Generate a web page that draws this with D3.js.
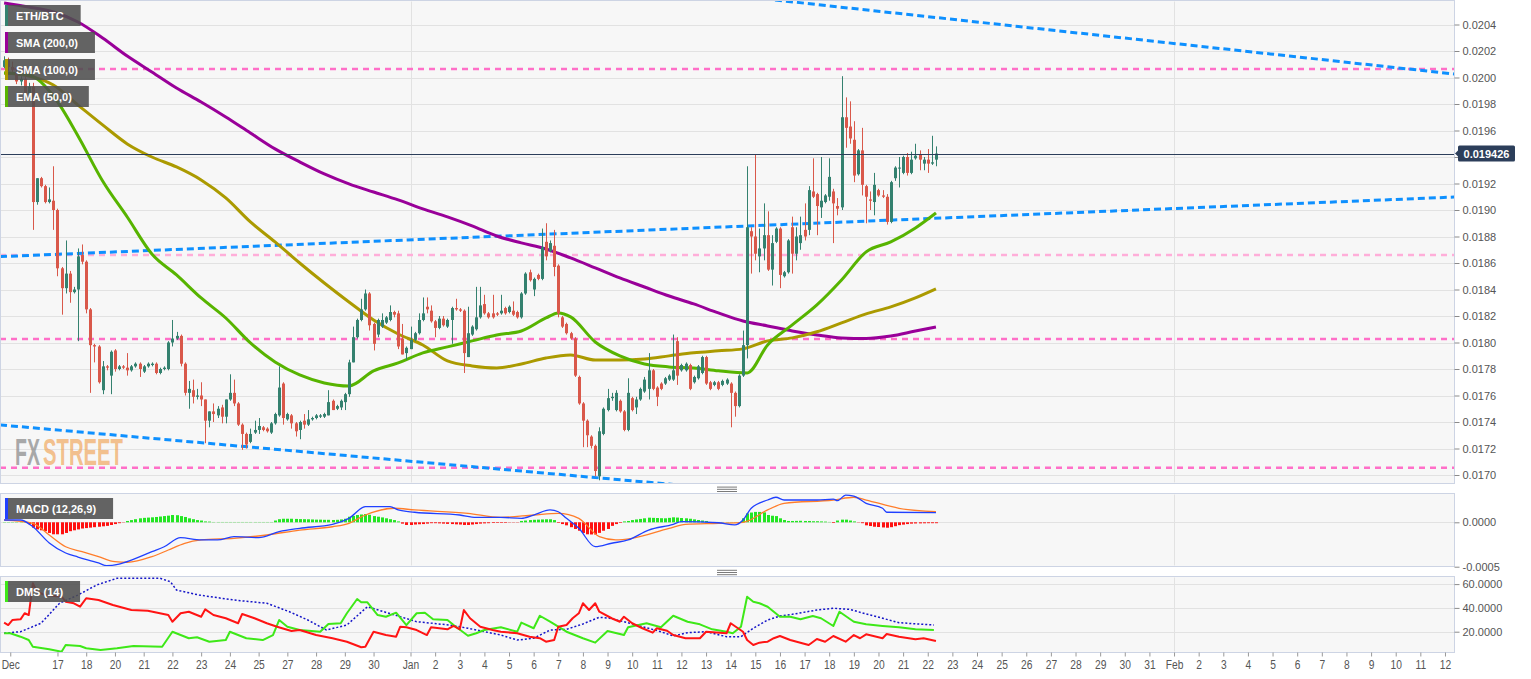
<!DOCTYPE html>
<html>
<head>
<meta charset="utf-8">
<script src="https://d3js.org/d3.v7.min.js"></script>
<style>
html,body{margin:0;padding:0;background:#fff;}
svg{display:block;}
</style>
</head>
<body>
<svg id="chart" width="1531" height="679"></svg>
<script>
// ================= DATA =================
// 4-hour candles ETH/BTC, first candle 2017-12-15 12:00 UTC (bar index 0)
const open = [0.02008,0.02013,0.02008,0.02004,0.01997,0.01999,0.01988,0.01993,0.01906,0.01924,
0.01918,0.01906,0.01907,0.01900,0.01856,0.01841,0.01852,0.01838,0.01840,0.01866,
0.01861,0.01825,0.01798,0.01797,0.01764,0.01782,0.01775,0.01794,0.01780,0.01782,
0.01781,0.01779,0.01782,0.01784,0.01778,0.01782,0.01783,0.01784,0.01777,0.01780,
0.01780,0.01800,0.01803,0.01805,0.01784,0.01762,0.01764,0.01759,0.01760,0.01757,
0.01741,0.01748,0.01745,0.01751,0.01744,0.01757,0.01762,0.01754,0.01738,0.01731,
0.01725,0.01732,0.01734,0.01736,0.01735,0.01732,0.01739,0.01745,0.01769,0.01742,
0.01745,0.01739,0.01734,0.01741,0.01738,0.01742,0.01743,0.01744,0.01744,0.01745,
0.01756,0.01750,0.01751,0.01755,0.01761,0.01785,0.01804,0.01817,0.01825,0.01837,
0.01814,0.01806,0.01812,0.01815,0.01817,0.01823,0.01822,0.01803,0.01792,0.01795,
0.01802,0.01807,0.01817,0.01827,0.01824,0.01816,0.01811,0.01818,0.01812,0.01817,
0.01826,0.01825,0.01824,0.01789,0.01806,0.01810,0.01819,0.01829,0.01822,0.01822,
0.01822,0.01822,0.01826,0.01823,0.01824,0.01823,0.01819,0.01837,0.01853,0.01840,
0.01851,0.01848,0.01876,0.01869,0.01873,0.01858,0.01819,0.01814,0.01807,0.01803,
0.01774,0.01754,0.01741,0.01729,0.01722,0.01699,0.01731,0.01749,0.01758,0.01749,
0.01756,0.01748,0.01734,0.01758,0.01751,0.01757,0.01763,0.01765,0.01779,0.01766,
0.01769,0.01769,0.01772,0.01772,0.01801,0.01779,0.01779,0.01783,0.01770,0.01773,
0.01777,0.01789,0.01770,0.01768,0.01770,0.01768,0.01769,0.01769,0.01762,0.01752,
0.01775,0.01798,0.01884,0.01880,0.01865,0.01871,0.01881,0.01855,0.01876,0.01886,
0.01850,0.01853,0.01887,0.01867,0.01875,0.01885,0.01885,0.01914,0.01912,0.01902,
0.01906,0.01910,0.01914,0.01903,0.01902,0.01970,0.01963,0.01953,0.01927,0.01945,
0.01918,0.01908,0.01906,0.01915,0.01911,0.01910,0.01891,0.01924,0.01932,0.01928,
0.01940,0.01928,0.01939,0.01942,0.01935,0.01938,0.01935,0.01938];
const high = [0.02016,0.02015,0.02012,0.02006,0.02001,0.02001,0.01996,0.01996,0.01924,0.01925,
0.01919,0.01917,0.01933,0.01901,0.01857,0.01877,0.01854,0.01842,0.01871,0.01874,
0.01862,0.01826,0.01799,0.01798,0.01786,0.01783,0.01794,0.01795,0.01783,0.01783,
0.01792,0.01783,0.01785,0.01785,0.01783,0.01785,0.01785,0.01785,0.01781,0.01782,
0.01801,0.01817,0.01808,0.01806,0.01785,0.01771,0.01772,0.01765,0.01770,0.01757,
0.01748,0.01754,0.01752,0.01753,0.01757,0.01776,0.01772,0.01755,0.01739,0.01732,
0.01735,0.01741,0.01743,0.01737,0.01736,0.01740,0.01747,0.01782,0.01770,0.01747,
0.01746,0.01740,0.01741,0.01746,0.01749,0.01744,0.01746,0.01746,0.01747,0.01764,
0.01757,0.01753,0.01757,0.01762,0.01787,0.01812,0.01818,0.01833,0.01840,0.01838,
0.01815,0.01818,0.01822,0.01820,0.01828,0.01824,0.01824,0.01814,0.01797,0.01812,
0.01808,0.01822,0.01834,0.01834,0.01828,0.01817,0.01820,0.01820,0.01818,0.01827,
0.01833,0.01826,0.01825,0.01827,0.01813,0.01842,0.01842,0.01836,0.01823,0.01836,
0.01823,0.01836,0.01827,0.01828,0.01831,0.01824,0.01838,0.01853,0.01855,0.01849,
0.01852,0.01886,0.01890,0.01877,0.01885,0.01859,0.01820,0.01815,0.01808,0.01804,
0.01775,0.01755,0.01742,0.01730,0.01723,0.01736,0.01751,0.01765,0.01762,0.01764,
0.01757,0.01749,0.01773,0.01759,0.01759,0.01766,0.01774,0.01792,0.01780,0.01767,
0.01770,0.01774,0.01776,0.01806,0.01804,0.01784,0.01785,0.01784,0.01775,0.01783,
0.01790,0.01790,0.01771,0.01771,0.01771,0.01772,0.01773,0.01770,0.01763,0.01776,
0.01809,0.01933,0.01887,0.01942,0.01886,0.01905,0.01899,0.01881,0.01887,0.01887,
0.01854,0.01878,0.01895,0.01887,0.01895,0.01905,0.01918,0.01939,0.01913,0.01940,
0.01912,0.01939,0.01916,0.01909,0.02001,0.01985,0.01982,0.01967,0.01946,0.01962,
0.01919,0.01914,0.01928,0.01916,0.01915,0.01912,0.01922,0.01933,0.01940,0.01941,
0.01943,0.01944,0.01950,0.01945,0.01940,0.01946,0.01956,0.01948];
const low = [0.02007,0.02005,0.02004,0.01995,0.01994,0.01986,0.01986,0.01885,0.01904,0.01917,
0.01905,0.01905,0.01885,0.01850,0.01821,0.01837,0.01830,0.01837,0.01801,0.01859,
0.01822,0.01762,0.01785,0.01769,0.01761,0.01779,0.01761,0.01778,0.01779,0.01780,
0.01775,0.01778,0.01781,0.01774,0.01777,0.01781,0.01782,0.01776,0.01776,0.01779,
0.01779,0.01797,0.01802,0.01782,0.01760,0.01750,0.01754,0.01757,0.01752,0.01724,
0.01736,0.01740,0.01743,0.01739,0.01739,0.01756,0.01752,0.01737,0.01719,0.01720,
0.01724,0.01731,0.01731,0.01733,0.01732,0.01731,0.01738,0.01744,0.01738,0.01741,
0.01735,0.01729,0.01727,0.01735,0.01737,0.01741,0.01742,0.01743,0.01743,0.01745,
0.01749,0.01749,0.01749,0.01749,0.01759,0.01785,0.01803,0.01816,0.01824,0.01809,
0.01794,0.01804,0.01811,0.01814,0.01816,0.01819,0.01795,0.01791,0.01787,0.01795,
0.01801,0.01806,0.01816,0.01822,0.01815,0.01804,0.01810,0.01812,0.01811,0.01799,
0.01824,0.01823,0.01777,0.01789,0.01805,0.01809,0.01818,0.01821,0.01818,0.01818,
0.01820,0.01821,0.01821,0.01822,0.01820,0.01818,0.01818,0.01836,0.01846,0.01835,
0.01847,0.01847,0.01862,0.01868,0.01850,0.01819,0.01811,0.01806,0.01802,0.01774,
0.01753,0.01721,0.01721,0.01720,0.01699,0.01696,0.01730,0.01748,0.01756,0.01748,
0.01747,0.01733,0.01733,0.01748,0.01746,0.01756,0.01762,0.01757,0.01764,0.01752,
0.01764,0.01768,0.01771,0.01771,0.01768,0.01778,0.01778,0.01764,0.01769,0.01772,
0.01776,0.01768,0.01764,0.01767,0.01764,0.01767,0.01768,0.01736,0.01744,0.01751,
0.01774,0.01788,0.01852,0.01862,0.01853,0.01862,0.01854,0.01843,0.01875,0.01841,
0.01849,0.01852,0.01852,0.01862,0.01870,0.01877,0.01881,0.01909,0.01881,0.01894,
0.01905,0.01907,0.01875,0.01896,0.01900,0.01947,0.01950,0.01921,0.01926,0.01911,
0.01890,0.01900,0.01896,0.01910,0.01909,0.01889,0.01890,0.01922,0.01917,0.01927,
0.01926,0.01927,0.01938,0.01930,0.01930,0.01928,0.01934,0.01933];
const close = [0.02013,0.02008,0.02006,0.01997,0.01999,0.01988,0.01993,0.01906,0.01924,0.01918,
0.01906,0.01908,0.01900,0.01856,0.01841,0.01852,0.01838,0.01840,0.01865,0.01861,
0.01825,0.01798,0.01797,0.01770,0.01782,0.01781,0.01793,0.01780,0.01782,0.01781,
0.01779,0.01782,0.01784,0.01780,0.01782,0.01784,0.01784,0.01777,0.01780,0.01781,
0.01800,0.01803,0.01805,0.01784,0.01762,0.01765,0.01759,0.01760,0.01757,0.01741,
0.01748,0.01746,0.01750,0.01744,0.01757,0.01762,0.01754,0.01738,0.01731,0.01723,
0.01731,0.01734,0.01737,0.01734,0.01733,0.01739,0.01746,0.01766,0.01743,0.01746,
0.01739,0.01733,0.01740,0.01738,0.01742,0.01743,0.01745,0.01745,0.01746,0.01755,
0.01749,0.01752,0.01756,0.01761,0.01785,0.01804,0.01817,0.01825,0.01837,0.01813,
0.01799,0.01817,0.01817,0.01819,0.01823,0.01821,0.01797,0.01791,0.01796,0.01802,
0.01807,0.01817,0.01822,0.01825,0.01816,0.01811,0.01818,0.01813,0.01817,0.01826,
0.01825,0.01824,0.01792,0.01807,0.01812,0.01819,0.01828,0.01822,0.01819,0.01819,
0.01821,0.01824,0.01822,0.01827,0.01821,0.01819,0.01837,0.01852,0.01847,0.01848,
0.01848,0.01872,0.01865,0.01875,0.01857,0.01822,0.01812,0.01807,0.01803,0.01775,
0.01754,0.01741,0.01730,0.01722,0.01703,0.01733,0.01750,0.01758,0.01759,0.01762,
0.01748,0.01734,0.01762,0.01749,0.01757,0.01765,0.01772,0.01779,0.01765,0.01759,
0.01765,0.01773,0.01775,0.01779,0.01775,0.01783,0.01784,0.01765,0.01774,0.01782,
0.01789,0.01769,0.01765,0.01770,0.01765,0.01771,0.01772,0.01762,0.01752,0.01775,
0.01798,0.01887,0.01880,0.01867,0.01871,0.01881,0.01855,0.01875,0.01886,0.01851,
0.01853,0.01877,0.01867,0.01880,0.01881,0.01880,0.01915,0.01910,0.01903,0.01907,
0.01911,0.01925,0.01905,0.01901,0.01970,0.01962,0.01954,0.01926,0.01945,0.01919,
0.01910,0.01907,0.01919,0.01911,0.01910,0.01891,0.01921,0.01932,0.01932,0.01940,
0.01928,0.01938,0.01941,0.01938,0.01938,0.01935,0.01936,0.019426];

// moving averages, [bar index, value]
const sma200 = [[0,0.020562],[6,0.020532],[12,0.020494],[18,0.020419],[24,0.020298],[30,0.020162],[36,0.020042],[42,0.019921],[48,0.019815],[54,0.019702],[60,0.019581],[66,0.019461],[72,0.019363],[78,0.019272],[84,0.019197],[90,0.019136],[96,0.019076],[102,0.019008],[108,0.018948],[114,0.018880],[120,0.018804],[126,0.018752],[132,0.018706],[138,0.018638],[144,0.018563],[150,0.018487],[156,0.018419],[162,0.018351],[168,0.018291],[174,0.018223],[180,0.018162],[186,0.018125],[192,0.018087],[198,0.018057],[204,0.018034],[210,0.018030],[216,0.018049],[222,0.018087],[227,0.018117]];
const sma100 = [[0,0.020034],[6,0.020011],[12,0.019943],[18,0.019792],[24,0.019642],[30,0.019499],[36,0.019400],[42,0.019325],[48,0.019227],[54,0.019091],[60,0.018910],[66,0.018759],[72,0.018600],[78,0.018449],[84,0.018306],[90,0.018170],[96,0.018064],[102,0.017981],[108,0.017861],[114,0.017823],[120,0.017808],[126,0.017838],[132,0.017883],[138,0.017906],[144,0.017868],[150,0.017868],[156,0.017876],[162,0.017899],[168,0.017922],[174,0.017937],[180,0.017952],[186,0.018012],[192,0.018035],[198,0.018081],[204,0.018148],[210,0.018216],[216,0.018269],[222,0.018337],[227,0.018405]];
const ema50 = [[0,0.020034],[6,0.020019],[12,0.019860],[18,0.019559],[24,0.019219],[30,0.018947],[36,0.018668],[42,0.018510],[48,0.018336],[54,0.018185],[60,0.017997],[66,0.017853],[72,0.017755],[78,0.017695],[84,0.017672],[90,0.017786],[96,0.017846],[102,0.017922],[108,0.017967],[114,0.018012],[120,0.018057],[126,0.018087],[132,0.018185],[135,0.018223],[138,0.018193],[144,0.018004],[150,0.017899],[156,0.017838],[162,0.017816],[168,0.017808],[174,0.017786],[181,0.017770],[186,0.017982],[192,0.018133],[198,0.018284],[204,0.018472],[210,0.018684],[216,0.018759],[222,0.018865],[227,0.018978]];

// support / resistance levels and trend lines [bar, price]
const hLevels = [0.020064, 0.018660, 0.018026, 0.017055];
const trendLines = [
  [[187.8, 0.020585], [353.4, 0.020026]],
  [[-1, 0.018648], [353.4, 0.019098]],
  [[-1, 0.017378], [165, 0.016923]]
];

// MACD (12,26,9)
const macdLine = [[0,2.6e-5],[4,2.6e-5],[7,-5e-5],[11,-23.3e-5],[15,-34.6e-5],[18,-39.1e-5],[23,-45.8e-5],[25,-48.9e-5],[28,-47e-5],[31,-42.5e-5],[36,-33.1e-5],[39,-27.5e-5],[43,-17.3e-5],[48,-19.9e-5],[52,-19.9e-5],[56,-16.2e-5],[62,-17.3e-5],[67,-10.6e-5],[72,-6.8e-5],[80,-2.3e-5],[84,4.5e-5],[88,17.6e-5],[94,17.6e-5],[96,13.9e-5],[100,11.3e-5],[111,8.2e-5],[115,5.6e-5],[121,5.6e-5],[126,4.5e-5],[129,8.2e-5],[133,13.9e-5],[135,11.9e-5],[137,4.5e-5],[140,-6.8e-5],[144,-27.5e-5],[148,-23.6e-5],[152,-19.9e-5],[157,-8.7e-5],[163,-2.3e-5],[165,0.7e-5],[174,-0.5e-5],[178,-3e-5],[180,2.6e-5],[182,15.8e-5],[186,25.1e-5],[188,28.2e-5],[190,25.1e-5],[198,25.1e-5],[202,26.2e-5],[203,24.3e-5],[205,30.7e-5],[207,29.6e-5],[210,21.4e-5],[214,15.8e-5],[215,11.3e-5],[227,10.8e-5]];
const macdSignal = [[0,2.6e-5],[7,-1.1e-5],[11,-14.3e-5],[15,-27.5e-5],[19,-33.1e-5],[23,-38.7e-5],[27,-44.4e-5],[30,-45e-5],[36,-38.7e-5],[40,-31.2e-5],[44,-23.6e-5],[48,-19.9e-5],[56,-18e-5],[64,-14.3e-5],[72,-8.7e-5],[80,-5e-5],[84,-1.1e-5],[88,8.2e-5],[95,15.8e-5],[100,13.9e-5],[113,10.1e-5],[121,5.6e-5],[129,8.2e-5],[135,10.1e-5],[140,4.5e-5],[145,-16.2e-5],[149,-19.9e-5],[153,-18e-5],[162,-6.8e-5],[166,-2.3e-5],[174,-1.1e-5],[180,0],[186,13.9e-5],[190,21.4e-5],[202,25.1e-5],[207,28.2e-5],[210,25.1e-5],[218,15.8e-5],[227,11.9e-5]];
const macdHist = [0.3e-5,0.3e-5,0.3e-5,0.3e-5,0.3e-5,0.3e-5,-2e-5,-6e-5,-8e-5,-9e-5,
-10e-5,-12e-5,-13.5e-5,-13.5e-5,-13.5e-5,-12e-5,-10e-5,-9e-5,-8e-5,-7e-5,
-6.5e-5,-6e-5,-5.5e-5,-5e-5,-4.5e-5,-4e-5,-3e-5,-2e-5,-1e-5,-0.5e-5,
1.5e-5,2.5e-5,3.5e-5,4.5e-5,5e-5,5.3e-5,5.6e-5,6e-5,6.5e-5,7e-5,
7.5e-5,8.2e-5,8e-5,7e-5,6e-5,4.5e-5,3.5e-5,2.5e-5,2e-5,1e-5,
0.8e-5,0.4e-5,0.4e-5,0.4e-5,0.4e-5,0.4e-5,0.4e-5,0.4e-5,0.4e-5,0.4e-5,
0.4e-5,0.4e-5,0.4e-5,0.4e-5,0.4e-5,0.4e-5,2e-5,3.5e-5,4e-5,4e-5,
4e-5,3.8e-5,3.6e-5,3.5e-5,3.4e-5,3.2e-5,3e-5,3e-5,2.8e-5,2.8e-5,
2.6e-5,2.8e-5,3.2e-5,4e-5,6.3e-5,7.2e-5,8.2e-5,8.8e-5,9.3e-5,8.5e-5,
7e-5,6.3e-5,5.5e-5,4.5e-5,3.5e-5,2.5e-5,1e-5,-1.5e-5,-3e-5,-3e-5,
-2.5e-5,-2.2e-5,-2e-5,-1.5e-5,-1e-5,-1e-5,-1.2e-5,-1.5e-5,-1.8e-5,-2e-5,
-2.3e-5,-2.5e-5,-3e-5,-3e-5,-2.5e-5,-2e-5,-1.5e-5,-1.2e-5,-1e-5,-0.8e-5,
-0.7e-5,-0.7e-5,-0.6e-5,-0.5e-5,-0.5e-5,-0.3e-5,1.5e-5,2e-5,2.5e-5,2.8e-5,
3e-5,3.2e-5,3.4e-5,3.4e-5,2.5e-5,-0.7e-5,-2e-5,-3.4e-5,-5.5e-5,-7.5e-5,
-9.5e-5,-12e-5,-13.5e-5,-13.7e-5,-13.7e-5,-11.9e-5,-9.5e-5,-7.5e-5,-4e-5,-2e-5,
-0.7e-5,1e-5,1.5e-5,2.5e-5,3.2e-5,3.8e-5,4.5e-5,5.2e-5,5e-5,4.8e-5,
4.6e-5,4.5e-5,5e-5,5.6e-5,5.3e-5,4.8e-5,4.5e-5,4e-5,3.3e-5,2.6e-5,
2e-5,1.5e-5,0.4e-5,0.4e-5,0.4e-5,0.4e-5,0.4e-5,0.4e-5,0.4e-5,0.4e-5,
4.5e-5,10e-5,11e-5,11.7e-5,11.7e-5,11.2e-5,8.2e-5,7.4e-5,7e-5,4.5e-5,
2.6e-5,1.5e-5,1.5e-5,1.6e-5,1.7e-5,1.5e-5,1.5e-5,1.2e-5,1.2e-5,1e-5,
0.8e-5,0.5e-5,-0.8e-5,2e-5,3e-5,3e-5,2e-5,1e-5,-0.5e-5,-1e-5,
-3.4e-5,-4.2e-5,-5e-5,-5.3e-5,-5.8e-5,-6.1e-5,-5.5e-5,-4.4e-5,-3.2e-5,-2.6e-5,
-2e-5,-1.5e-5,-1.3e-5,-1.2e-5,-1.1e-5,-1e-5,-1e-5,-1e-5];

// DMS (14): +DI, -DI, ADX  [bar, value]
const diMinus = [[0,27.6],[1,25.6],[2,29.8],[4,30.4],[5,35.5],[6,34],[7,60.7],[8,53.6],[10,50.8],[14,49.4],[15,45.2],[17,43.9],[18.5,41],[20,48.1],[23,46.6],[26.5,42.4],[31,38.2],[35,37.6],[40,34],[41,28.4],[43,35.5],[45,36.8],[48,32.6],[49,38.8],[51,34],[54,31.3],[57,27.1],[58,34.9],[61,31.3],[64,27.1],[66.5,24.2],[70,20.6],[72,21.4],[76,17.2],[80,14.5],[83.5,11.6],[87,6.9],[88,7.4],[90,20],[93,17.2],[95.5,15.8],[96.5,24.2],[98,23.7],[100.5,21.4],[103,17.2],[104,23.7],[108,22],[109.5,24.8],[111,22],[112,38.2],[113.5,31.3],[116,24.2],[119,21.4],[121,20],[125,18.7],[128,15.8],[130.5,14.5],[132,11.6],[134,13],[135,24.2],[137,25.6],[138.5,31.3],[140,35.5],[141,43.9],[142.5,38.2],[144,43.9],[145,36.8],[148,31.3],[150,28.4],[151,32.6],[153,27.1],[155.5,22.9],[158,19.2],[159,22.9],[161.5,20.8],[163,17.2],[166,14.5],[169.5,14.5],[171,20],[176,18.7],[177,27.1],[180,20],[181,13],[182.5,8.8],[184,10.8],[186,11.6],[187.5,14.5],[189,16.4],[191.5,13],[196,8.8],[198,13.9],[200,11.6],[202,16.4],[205,11.6],[207,17.2],[208.5,14.5],[210,17.8],[214,14.5],[215,18.1],[218,15.8],[222,13.6],[224,14.5],[227,12.2]];
const diPlus = [[0,18.7],[1.5,18.7],[4,15.8],[6,13],[7,7.4],[11,5.2],[14,3.2],[15,8.8],[18.5,8],[20,6.1],[23.5,4.6],[27.5,6.1],[31.5,8],[38.5,7.4],[41,20],[45,14.5],[47,15.3],[50,11.6],[54,13],[55,20],[59,14.5],[63,13],[65.5,17.2],[67,29.8],[69,24.2],[72,21.4],[77,20],[79,26.5],[82,27.1],[83.5,35.5],[86,47.5],[87,44.7],[88.5,44.7],[91,34],[93,32.6],[95.5,36],[98,25.6],[100.5,35.5],[102.5,36],[104.5,30.4],[108,29.8],[109.5,25.6],[113,16.6],[115,18.7],[117,21.4],[121,23.7],[125,20],[126,27.6],[129,22.9],[130.5,33.4],[133,28.4],[135,24.2],[137,20],[141,14.5],[144,10.8],[147,20.6],[151,17.2],[152,23.7],[156.5,27.1],[160,23.7],[163,33.4],[166.5,28.4],[169.5,26.2],[172.5,22],[176,20],[177.5,18.7],[179.5,24.2],[181,49.4],[182.5,45.2],[184,43.9],[186,41],[187.5,36.8],[189,32.6],[191.5,32.6],[194,30.4],[197,33.2],[199,31.3],[202,24.8],[203.5,36.8],[207,28.4],[210,26.2],[214,24.8],[218,23.7],[222,22],[226.5,21.4]];
const adx = [[0,18.7],[4,20],[9,27.1],[13.5,43.9],[18,50.8],[22.5,59.2],[27.5,64.9],[38,64.9],[40.5,62],[42,55],[47.5,50.8],[56,46.6],[64,43.9],[69.5,36.8],[74,29.8],[78.5,21.4],[83.5,25.6],[88.5,41],[96.5,32.6],[100.5,28.4],[108.5,25.6],[113,22.9],[121,17.2],[125,13],[129,14.5],[133,21.4],[137,22],[141,26.5],[145,32.1],[147.5,31.3],[151.5,27.9],[155.5,24.2],[160,20],[163,16.4],[166.5,19.2],[171,20],[176,15.8],[179.5,15.8],[182.5,22.9],[186,29.8],[189,33.2],[192,34.6],[198,38.2],[202,39.7],[206,38.8],[210,34.9],[214,31.3],[218,27.6],[222.5,26.5],[226.5,25.6]];

// axis ticks
const priceTicks = [0.0170,0.0172,0.0174,0.0176,0.0178,0.0180,0.0182,0.0184,0.0186,0.0188,0.0190,0.0192,0.0194,0.0196,0.0198,0.0200,0.0202,0.0204];
const macdTicks = [0, -0.0005];
const dmsTicks = [20, 40, 60];
const xTickBars = [1.5,13,20,27,34,41,48,55,62,69,76,83,90].concat(d3.range(99, 352, 6));
const xTickLabels = ["Dec","17","18","20","21","22","23","24","25","27","28","29","30",
 "Jan","2","3","4","5","6","7","8","9","10","11","12","13","14","15","16","17","18","19","20","21","22","23","24","25","26","27","28","29","30","31",
 "Feb","2","3","4","5","6","7","8","9","10","11","12"];
const legendMain = ["ETH/BTC","SMA (200,0)","SMA (100,0)","EMA (50,0)"];

// ================= DRAW =================
const svg = d3.select("#chart");
const FONT = "'Liberation Sans', Arial, Helvetica, sans-serif";
const NARROW = "'Liberation Sans Narrow', 'Arial Narrow', 'Liberation Sans', sans-serif";
const plotW = 1454;
const P = {
  main: {top: 0.5, bottom: 483.5},
  macd: {top: 493.5, bottom: 566.5},
  dms: {top: 576.5, bottom: 652.5}
};
const x = d3.scaleLinear().domain([-1, 353.2]).range([0, plotW]);
const y = d3.scaleLinear().domain([0.0170, 0.0204]).range([475, 24.5]);
const yM = d3.scaleLinear().domain([-0.0005, 0]).range([566.7, 522.3]);
const yD = d3.scaleLinear().domain([20, 60]).range([631.7, 584.1]);
const crisp = v => Math.round(v) + 0.5;

// panel backgrounds and clips
Object.entries(P).forEach(([k, p]) => {
  svg.append("rect").attr("x", 0.5).attr("y", p.top).attr("width", plotW).attr("height", p.bottom - p.top)
    .attr("fill", "#f7f7f7").attr("stroke", "#cdd4e4");
  svg.append("clipPath").attr("id", "clip-" + k).append("rect")
    .attr("x", 1).attr("y", p.top + 0.5).attr("width", plotW - 1).attr("height", p.bottom - p.top - 1);
});

// grids
const grid = svg.append("g").attr("stroke", "#e2e2e2").attr("stroke-width", 1);
priceTicks.forEach(v => grid.append("line").attr("x1", 1).attr("x2", plotW).attr("y1", crisp(y(v))).attr("y2", crisp(y(v))));
[0].forEach(v => grid.append("line").attr("x1", 1).attr("x2", plotW).attr("y1", crisp(yM(v))).attr("y2", crisp(yM(v))));
dmsTicks.forEach(v => grid.append("line").attr("x1", 1).attr("x2", plotW).attr("y1", crisp(yD(v))).attr("y2", crisp(yD(v))));
xTickBars.forEach((b, i) => {
  if (i > 0 && isNaN(+xTickLabels[i])) {
    Object.values(P).forEach(p => grid.append("line").attr("x1", crisp(x(b))).attr("x2", crisp(x(b))).attr("y1", p.top + 1).attr("y2", p.bottom - 1));
  }
});

// ---- main panel ----
const gMain = svg.append("g").attr("clip-path", "url(#clip-main)");

// watermark: two words, each condensed with a transform to its width in the reference
function wmWord(txt, color, op, left, width) {
  const t = gMain.append("text").attr("x", 0).attr("y", 0).text(txt)
    .attr("fill", color).attr("fill-opacity", op)
    .style("font-family", FONT).style("font-weight", "bold").style("font-size", "37px");
  const w = t.node().getComputedTextLength();
  t.attr("transform", `translate(${left},465) scale(${(width / w).toFixed(3)},1)`);
}
wmWord("FX", "#8e8e8e", 0.75, 15, 25);
wmWord("STREET", "#f0a050", 0.65, 43, 80);

// horizontal levels
const levelColors = ["#ff6fc8", "#ffaed9", "#ff6fc8", "#ff6fc8"];
hLevels.forEach((v, i) => gMain.append("line").attr("x1", 0).attr("x2", plotW)
  .attr("y1", y(v)).attr("y2", y(v)).attr("stroke", levelColors[i]).attr("stroke-width", 2.5)
  .attr("stroke-dasharray", "6,5"));

// trend lines
trendLines.forEach(t => gMain.append("line")
  .attr("x1", x(t[0][0])).attr("y1", y(t[0][1])).attr("x2", x(t[1][0])).attr("y2", y(t[1][1]))
  .attr("stroke", "#0e90ff").attr("stroke-width", 3).attr("stroke-dasharray", "7,4"));

// moving averages
const maLine = d3.line().x(d => x(d[0])).y(d => y(d[1])).curve(d3.curveMonotoneX);
[[sma200, "#990099"], [sma100, "#ab9a00"], [ema50, "#57b400"]].forEach(([s, c]) =>
  gMain.append("path").attr("d", maLine(s)).attr("fill", "none").attr("stroke", c).attr("stroke-width", 3)
    .attr("stroke-linejoin", "round"));

// candles
const UP = "#34816f", DOWN = "#d9584a";
const candles = close.map((c, i) => ({i, o: open[i], h: high[i], l: low[i], c}));
const cg = gMain.append("g");
cg.selectAll("line.wick").data(candles).join("line").attr("class", "wick")
  .attr("x1", d => crisp(x(d.i))).attr("x2", d => crisp(x(d.i)))
  .attr("y1", d => y(d.h)).attr("y2", d => y(d.l))
  .attr("stroke", d => d.c >= d.o ? UP : DOWN).attr("stroke-width", 1);
cg.selectAll("rect.body").data(candles).join("rect").attr("class", "body")
  .attr("x", d => Math.round(x(d.i)) - 1).attr("width", 3)
  .attr("y", d => y(Math.max(d.o, d.c)))
  .attr("height", d => Math.max(1, Math.abs(y(d.o) - y(d.c))))
  .attr("fill", d => d.c >= d.o ? UP : DOWN);

// last price line
const last = close[close.length - 1];
gMain.append("line").attr("x1", 0).attr("x2", plotW).attr("y1", crisp(y(last))).attr("y2", crisp(y(last)))
  .attr("stroke", "#2c3e5a").attr("stroke-width", 1);

// ---- MACD panel ----
const gMacd = svg.append("g").attr("clip-path", "url(#clip-macd)");
gMacd.selectAll("rect").data(macdHist.map((v, i) => ({i, v}))).join("rect")
  .attr("x", d => Math.round(x(d.i)) - 1).attr("width", 3)
  .attr("y", d => Math.min(yM(0), yM(d.v))).attr("height", d => Math.max(0.6, Math.abs(yM(d.v) - yM(0))))
  .attr("fill", d => d.v >= 0 ? "#22e622" : "#ff1010")
  .attr("fill-opacity", d => Math.abs(d.v) < 0.6e-5 ? 0.45 : 1);
const mLine = d3.line().x(d => x(d[0])).y(d => yM(d[1])).curve(d3.curveMonotoneX);
gMacd.append("path").attr("d", mLine(macdSignal)).attr("fill", "none").attr("stroke", "#ff7d2a").attr("stroke-width", 1.3);
gMacd.append("path").attr("d", mLine(macdLine)).attr("fill", "none").attr("stroke", "#2040ff").attr("stroke-width", 1.3);

// ---- DMS panel ----
const gDms = svg.append("g").attr("clip-path", "url(#clip-dms)");
const dLine = d3.line().x(d => x(d[0])).y(d => yD(d[1]));
gDms.append("path").attr("d", dLine(adx)).attr("fill", "none").attr("stroke", "#1414c8").attr("stroke-width", 1.5).attr("stroke-dasharray", "2,2");
gDms.append("path").attr("d", dLine(diPlus)).attr("fill", "none").attr("stroke", "#3ee818").attr("stroke-width", 2).attr("stroke-linejoin", "round");
gDms.append("path").attr("d", dLine(diMinus)).attr("fill", "none").attr("stroke", "#ff1414").attr("stroke-width", 2).attr("stroke-linejoin", "round");

// ---- legends ----
function legendBox(label, color, bx, by) {
  const g = svg.append("g");
  const r = g.append("rect").attr("x", bx).attr("y", by).attr("height", 21).attr("fill", "#4f4f4f").attr("fill-opacity", 0.88);
  const t = g.append("text").attr("x", bx + 11).attr("y", by + 15).text(label)
    .attr("fill", "#fff").style("font-family", FONT).style("font-weight", "bold").style("font-size", "11px");
  const w = t.node().getComputedTextLength();
  r.attr("width", w + 28);
  g.append("rect").attr("x", bx).attr("y", by).attr("width", 3).attr("height", 21).attr("fill", color);
}
const legendColors = [UP, "#990099", "#ab9a00", "#57b400"];
legendMain.forEach((l, i) => legendBox(l, legendColors[i], 5, 5 + i * 27));
legendBox("MACD (12,26,9)", "#2040ff", 5, 498);
legendBox("DMS (14)", "#3ee818", 5, 581);

// ---- panel resize handles ----
[489.3, 572.5].forEach(cy => {
  [-2.2, 0, 2.2].forEach(o => svg.append("line").attr("x1", 717).attr("x2", 737)
    .attr("y1", cy + o).attr("y2", cy + o).attr("stroke", "#7a7a7a").attr("stroke-width", 1));
});

// ---- axes ----
function rightAxis(scale, ticks, fmt, hideNear) {
  const g = svg.append("g").attr("transform", `translate(${plotW + 0.5},0)`)
    .call(d3.axisRight(scale).tickValues(ticks).tickFormat(fmt).tickSize(5).tickPadding(3));
  g.select(".domain").remove();
  g.selectAll("line").attr("stroke", "#8a8a8a");
  g.selectAll("text").attr("fill", "#555").style("font-family", FONT).style("font-size", "11px");
  if (hideNear !== undefined) {
    // the last-price tag covers the tick label it sits on
    g.selectAll(".tick").filter(d => Math.abs(scale(d) - scale(hideNear)) < 12).select("text").remove();
  }
}
const loc = d3.formatLocale({decimal: ".", thousands: ",", grouping: [3], currency: ["", ""], minus: "-"});
const f4 = loc.format(".4f");
rightAxis(y, priceTicks, f4, last);
rightAxis(yM, macdTicks, f4);
rightAxis(yD, dmsTicks, f4);

const xAxis = d3.axisBottom(x).tickValues(xTickBars).tickFormat((d, i) => xTickLabels[i]).tickSize(4).tickPadding(4);
const gx = svg.append("g").attr("transform", `translate(0,${P.dms.bottom})`).call(xAxis);
gx.select(".domain").remove();
gx.selectAll("line").attr("stroke", "#999");
gx.selectAll("text").attr("fill", "#555").style("font-family", NARROW).style("font-size", "12px")
  .each(function() {
    const w = this.getComputedTextLength();
    d3.select(this).attr("textLength", (w * 0.85).toFixed(1)).attr("lengthAdjust", "spacingAndGlyphs");
  });

// last price tag
const ly = y(last);
const tag = svg.append("g");
tag.append("path").attr("d", `M${plotW + 1},${ly} L${plotW + 5},${ly - 4} L${plotW + 5},${ly + 4} Z`).attr("fill", "#2c3e5a");
tag.append("rect").attr("x", plotW + 4).attr("y", ly - 8).attr("width", 57).attr("height", 16).attr("rx", 1.5).attr("fill", "#2c3e5a");
tag.append("text").attr("x", plotW + 32.5).attr("y", ly + 4).attr("text-anchor", "middle")
  .text(d3.format(".6f")(last)).attr("fill", "#fff").style("font-family", FONT).style("font-weight", "bold").style("font-size", "11px");
</script>
</body>
</html>
